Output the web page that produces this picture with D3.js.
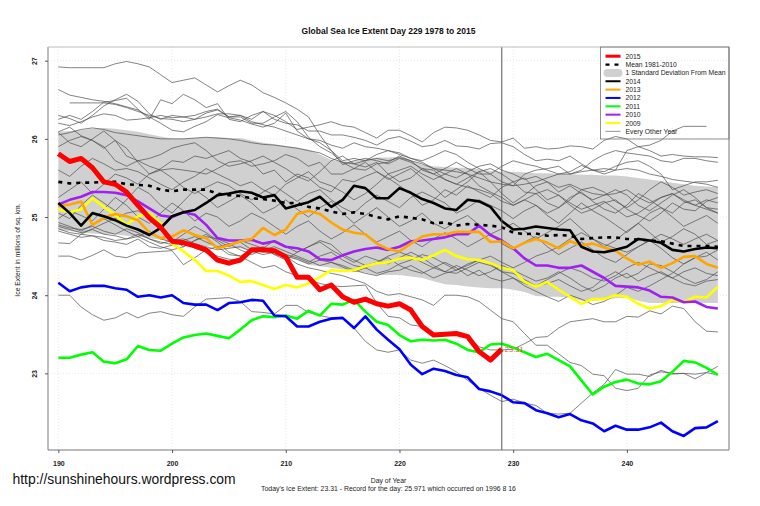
<!DOCTYPE html>
<html>
<head>
<meta charset="utf-8">
<script src="https://cdn.jsdelivr.net/npm/d3@7"></script>
<style>
  html, body { margin: 0; padding: 0; background: #fff; }
  svg { display: block; }
  text { font-family: "Liberation Sans", Arial, sans-serif; }
</style>
</head>
<body>
<svg width="760" height="506"></svg>
<script>
// first value of every series is day 190
const firstDay = 190;
const xTicks = [190, 200, 210, 220, 230, 240];
const yTicks = [23, 24, 25, 26, 27];

const y2015 = [25.81,25.71,25.75,25.63,25.45,25.42,25.32,25.15,24.99,24.87,
  24.69,24.67,24.63,24.58,24.45,24.41,24.45,24.58,24.58,24.57,
  24.49,24.23,24.23,24.07,24.13,23.98,23.91,23.95,23.89,23.86,
  23.89,23.81,23.60,23.49,23.50,23.51,23.47,23.28,23.17,23.31];
const y2014 = [25.18,25.05,24.89,25.05,25.01,24.96,24.89,24.84,24.77,24.86,
  25.01,25.06,25.09,25.18,25.28,25.30,25.33,25.31,25.25,25.28,
  25.11,25.15,25.19,25.26,25.13,25.22,25.40,25.37,25.24,25.24,
  25.37,25.31,25.23,25.18,25.11,25.09,25.22,25.20,25.13,24.95,
  24.84,24.85,24.88,24.86,24.84,24.83,24.62,24.56,24.55,24.58,
  24.62,24.72,24.70,24.67,24.58,24.56,24.59,24.61,24.60];
const y2013 = [25.14,25.16,25.20,24.90,24.99,25.04,25.01,24.96,24.80,24.73,
  24.75,24.83,24.77,24.73,24.60,24.64,24.69,24.72,24.86,24.77,
  24.84,25.04,25.08,25.04,24.93,24.84,24.80,24.78,24.66,24.59,
  24.56,24.66,24.75,24.78,24.78,24.81,24.81,24.81,24.68,24.69,
  24.60,24.67,24.72,24.67,24.60,24.69,24.64,24.66,24.61,24.57,
  24.47,24.39,24.43,24.35,24.41,24.49,24.50,24.40,24.35];
const y2012 = [24.16,24.05,24.10,24.12,24.12,24.09,24.07,23.98,24.00,23.97,
  24.00,23.90,23.88,23.88,23.81,23.90,23.91,23.94,23.93,23.74,
  23.73,23.60,23.60,23.66,23.70,23.71,23.58,23.73,23.56,23.43,
  23.31,23.11,22.99,23.06,23.03,22.98,22.95,22.80,22.77,22.72,
  22.63,22.62,22.53,22.49,22.44,22.48,22.40,22.36,22.26,22.33,
  22.28,22.28,22.31,22.37,22.26,22.20,22.30,22.31,22.39];
const y2011 = [23.20,23.20,23.24,23.27,23.15,23.13,23.18,23.35,23.30,23.29,
  23.38,23.46,23.49,23.51,23.48,23.45,23.56,23.68,23.73,23.72,
  23.74,23.70,23.80,23.74,23.89,23.88,23.94,23.79,23.66,23.62,
  23.49,23.41,23.43,23.42,23.43,23.38,23.30,23.27,23.37,23.38,
  23.33,23.27,23.21,23.25,23.17,23.09,22.91,22.73,22.83,22.89,
  22.92,22.87,22.86,22.90,23.02,23.16,23.14,23.07,22.98];
const y2010 = [25.16,25.22,25.26,25.32,25.32,25.31,25.28,25.20,25.11,25.02,
  25.00,25.06,25.03,24.90,24.73,24.70,24.70,24.71,24.66,24.69,
  24.62,24.60,24.56,24.46,24.45,24.51,24.56,24.59,24.61,24.58,
  24.62,24.69,24.70,24.72,24.74,24.78,24.78,24.89,24.77,24.70,
  24.60,24.47,24.38,24.38,24.35,24.35,24.38,24.30,24.22,24.12,
  24.11,24.10,24.06,23.98,23.97,23.91,23.92,23.85,23.83];
const y2009 = [25.10,25.06,25.10,25.24,25.13,25.03,24.90,25.01,25.05,24.92,
  24.66,24.56,24.45,24.31,24.31,24.25,24.17,24.18,24.13,24.08,
  24.13,24.10,24.15,24.23,24.32,24.31,24.32,24.37,24.41,24.42,
  24.47,24.48,24.45,24.51,24.58,24.50,24.46,24.45,24.41,24.35,
  24.32,24.17,24.11,24.17,24.07,23.98,23.89,23.95,23.95,24.00,
  23.98,23.89,23.83,23.86,23.94,23.91,23.98,23.97,24.11];
const meanLine = [25.45,25.43,25.44,25.44,25.45,25.45,25.42,25.41,25.40,25.35,
  25.33,25.35,25.35,25.35,25.30,25.28,25.27,25.24,25.23,25.21,
  25.18,25.18,25.13,25.11,25.07,25.04,25.06,25.04,25.00,24.97,
  25.01,24.99,24.97,24.92,24.93,24.89,24.91,24.90,24.89,24.87,
  24.80,24.78,24.79,24.76,24.77,24.76,24.72,24.73,24.74,24.74,
  24.72,24.71,24.70,24.69,24.66,24.63,24.63,24.63,24.62];
const sdUpper = [26.09,26.10,26.11,26.13,26.14,26.13,26.11,26.09,26.06,26.03,
  26.00,26.00,26.01,26.02,26.02,26.01,26.01,25.98,25.95,25.93,
  25.91,25.89,25.86,25.80,25.73,25.71,25.71,25.74,25.76,25.76,
  25.77,25.72,25.67,25.65,25.64,25.63,25.63,25.61,25.59,25.58,
  25.58,25.57,25.56,25.56,25.55,25.55,25.54,25.54,25.53,25.53,
  25.52,25.50,25.48,25.46,25.44,25.42,25.40,25.39,25.38];
const sdLower = [24.83,24.82,24.80,24.79,24.78,24.78,24.76,24.75,24.73,24.71,
  24.69,24.67,24.65,24.63,24.62,24.61,24.60,24.56,24.55,24.53,
  24.49,24.45,24.39,24.37,24.35,24.33,24.31,24.29,24.26,24.26,
  24.26,24.24,24.22,24.18,24.14,24.13,24.11,24.10,24.09,24.09,
  24.07,24.04,23.99,23.98,23.98,23.97,23.93,23.93,23.94,23.96,
  23.97,23.93,23.90,23.90,23.90,23.90,23.90,23.90,23.90];

// the thin lines, estimated by eye
const otherYears = [
  [26.92,26.91,26.91,26.91,26.91,26.96,26.99,26.96,26.92,26.82,26.72,26.75,26.78,26.69,26.60,26.68,26.75,26.69,26.59,26.53,26.46,26.38,26.28,26.05,25.85,25.67,25.72,25.75,25.72,25.68,25.75,25.70,25.62,25.60,25.48,25.42,25.38,25.35,25.30,25.20,25.15,25.22,25.30,25.35,25.28,25.18,25.10,25.15,25.20,25.10,25.00,25.05,25.15,25.25,25.30,25.22,25.15,25.10,25.05],
  [26.63,26.56,26.53,26.50,26.48,26.45,26.41,26.37,26.28,26.20,26.11,26.09,26.16,26.22,26.31,26.27,26.24,26.19,26.15,26.20,26.33,26.10,26.00,25.95,25.85,25.72,25.75,25.72,25.80,25.85,25.82,25.75,25.70,25.62,25.55,25.50,25.58,25.65,25.68,25.60,25.55,25.48,25.52,25.45,25.38,25.42,25.35,25.30,25.28,25.30,25.35,25.25,25.18,25.25,25.30,25.20,25.15,25.22,25.18],
  [null,26.46,26.46,26.46,26.46,26.44,26.40,26.35,26.30,26.26,26.25,26.22,26.25,26.33,26.37,26.28,26.30,26.25,26.35,26.30,26.22,26.12,26.15,26.18,26.22,26.17,26.15,26.08,26.01,26.11,26.11,26.04,25.96,26.08,26.15,26.14,26.11,26.05,25.98,25.96,26.01,25.88,25.90,25.87,25.88,25.91,25.90,25.87,25.98,26.03,26.00,25.90,25.85,25.78,25.80,25.78,25.77,25.77,25.76],
  [26.30,26.26,26.20,26.30,26.42,26.50,26.57,26.48,26.32,26.25,26.30,26.28,26.30,26.35,26.38,26.28,26.28,26.20,26.20,26.28,26.35,26.22,26.02,25.90,25.82,25.70,25.62,25.60,25.68,25.70,25.78,25.72,25.60,25.55,25.62,25.70,25.62,25.55,25.55,25.45,25.40,25.55,25.60,25.62,25.65,25.55,25.60,25.72,25.80,25.85,25.82,25.80,25.78,25.72,25.70,25.75,25.75,25.72,25.70],
  [26.25,26.30,26.25,26.35,26.47,26.49,26.52,26.38,26.25,26.50,26.45,26.57,26.50,26.40,26.45,26.25,26.22,26.30,26.35,26.25,26.20,26.18,26.10,26.10,26.05,26.05,26.02,25.98,25.92,26.00,26.03,25.97,25.90,25.92,25.98,25.91,25.90,25.87,25.94,25.95,25.90,25.80,25.72,25.74,25.72,25.78,25.68,25.60,25.58,25.65,25.70,25.72,25.65,25.55,25.35,25.40,25.45,25.45,25.47],
  [26.20,26.17,26.22,26.28,26.32,26.30,26.24,26.25,26.27,26.30,26.27,26.28,26.25,26.28,26.32,26.32,26.30,26.22,26.18,26.15,26.10,26.05,26.00,25.98,25.92,25.88,25.95,25.90,25.88,25.85,25.80,25.75,25.72,25.78,25.85,25.80,25.70,25.62,25.55,25.65,25.72,25.68,25.65,25.60,25.55,25.58,25.66,25.60,25.55,25.60,25.85,25.90,25.92,25.98,26.10,26.16,26.16,26.16,null],
  [26.09,26.15,26.04,25.98,25.88,25.98,25.78,25.72,25.75,25.80,25.88,25.92,25.95,25.85,25.72,25.65,25.68,25.72,25.78,25.70,25.62,25.52,25.46,25.58,25.72,25.78,25.68,25.64,25.70,25.55,25.45,25.50,25.62,25.55,25.48,25.42,25.50,25.58,25.45,25.30,25.18,25.28,25.40,25.45,25.32,25.40,25.30,25.22,25.28,25.35,25.28,25.15,25.08,25.18,25.28,25.35,25.25,25.12,25.10],
  [26.08,25.95,25.90,26.00,26.10,25.98,25.88,25.70,25.55,25.62,25.72,25.70,25.78,25.75,25.80,25.85,25.75,25.70,25.55,25.60,25.45,25.55,25.50,25.38,25.32,25.48,25.45,25.52,25.58,25.50,25.40,25.30,25.15,25.22,25.35,25.28,25.40,25.32,25.25,25.38,25.45,25.50,25.35,25.22,25.28,25.15,25.05,25.10,25.18,25.22,25.10,25.02,24.95,25.05,25.18,25.10,25.08,25.20,25.25],
  [25.90,25.98,26.03,25.98,25.90,25.72,25.65,25.72,25.65,25.60,25.62,25.60,25.58,25.55,25.62,25.70,25.72,25.65,25.68,25.72,25.80,25.75,25.65,25.70,25.55,25.55,25.62,25.70,25.58,25.48,25.55,25.62,25.50,25.38,25.25,25.35,25.45,25.58,25.62,25.55,25.45,25.32,25.30,25.18,25.12,25.22,25.35,25.38,25.32,25.20,25.12,25.22,25.35,25.45,25.38,25.28,25.32,25.35,25.30],
  [25.60,25.52,25.65,25.75,25.68,25.60,25.62,25.58,25.50,25.42,25.35,25.45,25.52,25.62,25.55,25.48,25.40,25.45,25.35,25.28,25.42,25.50,25.58,25.45,25.40,25.32,25.22,25.30,25.42,25.55,25.60,25.65,25.55,25.48,25.55,25.62,25.55,25.40,25.32,25.25,25.15,25.22,25.15,25.05,25.12,25.25,25.32,25.20,25.10,25.05,25.15,25.30,25.22,25.12,25.05,25.18,25.22,25.12,25.05],
  [25.25,25.35,25.45,25.30,25.42,25.55,25.50,25.42,25.55,25.60,25.50,25.38,25.30,25.38,25.45,25.40,25.30,25.22,25.32,25.40,25.30,25.20,25.30,25.35,25.22,25.12,25.05,25.18,25.28,25.20,25.12,25.25,25.32,25.25,25.18,25.05,25.12,25.22,25.15,25.08,24.98,25.08,25.15,25.02,24.92,25.05,25.18,25.08,25.00,24.90,24.80,24.92,25.05,25.12,25.00,24.88,24.95,25.02,24.92],
  [25.05,24.98,25.15,25.28,25.18,25.08,25.22,25.38,25.30,25.15,25.05,25.20,25.35,25.25,25.12,25.20,25.28,25.18,25.05,25.12,25.22,25.10,25.00,25.12,25.20,25.05,24.92,25.02,25.12,25.00,24.88,24.95,25.05,24.92,24.85,24.95,25.02,24.90,24.78,24.85,24.92,24.82,24.72,24.80,24.88,24.98,24.85,24.72,24.62,24.70,24.82,24.92,24.80,24.68,24.75,24.85,24.78,24.65,24.70],
  [24.98,25.08,25.02,24.95,25.10,25.25,25.15,25.00,24.92,25.05,25.18,25.08,24.95,25.05,25.00,24.88,24.95,25.05,24.98,24.88,24.78,24.88,24.95,24.82,24.72,24.80,24.90,24.78,24.68,24.75,24.82,24.70,24.62,24.72,24.80,24.72,24.62,24.70,24.78,24.66,24.58,24.68,24.75,24.62,24.52,24.60,24.68,24.58,24.48,24.42,24.52,24.62,24.70,24.60,24.48,24.40,24.48,24.55,24.45],
  [24.93,24.88,24.82,24.90,24.98,24.90,24.82,24.75,24.82,24.72,24.68,24.78,24.88,24.80,24.70,24.62,24.70,24.65,24.60,24.70,24.62,24.55,24.62,24.68,24.58,24.50,24.42,24.50,24.45,24.40,24.48,24.55,24.48,24.38,24.30,24.38,24.32,24.25,24.30,24.38,24.32,24.25,24.18,24.22,24.30,24.22,24.12,24.05,24.12,24.22,24.28,24.18,24.25,24.30,24.22,24.15,24.12,24.18,24.20],
  [24.90,24.86,24.84,24.88,24.82,24.78,24.85,24.80,24.72,24.68,24.65,24.70,24.75,24.68,24.62,24.65,24.68,24.58,24.55,24.58,24.52,24.48,24.42,24.50,24.55,24.45,24.38,24.35,24.42,24.48,24.38,24.32,24.28,24.35,24.42,24.35,24.25,24.32,24.22,24.18,24.22,24.15,24.12,24.20,24.28,24.35,24.30,24.22,24.18,24.25,24.35,24.42,24.35,24.28,24.22,24.30,24.35,24.28,24.25],
  [24.88,24.84,24.80,24.84,24.78,24.76,24.72,24.78,24.72,24.66,24.70,24.72,24.66,24.62,24.58,24.60,24.62,24.56,24.52,24.55,24.50,24.46,24.40,24.45,24.42,24.38,24.32,24.28,24.25,24.30,24.32,24.38,24.30,24.22,24.28,24.32,24.40,24.45,24.50,24.42,24.35,24.42,24.50,24.55,24.62,24.72,24.80,24.72,24.65,24.60,24.55,24.62,24.70,24.78,24.72,24.65,24.72,24.78,24.70],
  [24.85,24.80,24.78,24.76,24.74,24.70,24.72,24.75,24.68,24.62,24.58,24.62,24.70,24.75,24.72,24.66,24.58,24.52,24.58,24.62,24.56,24.50,24.44,24.38,24.42,24.36,24.30,24.35,24.28,24.32,24.40,24.45,24.52,24.48,24.40,24.32,24.38,24.45,24.40,24.30,24.28,24.20,24.12,24.15,24.20,24.12,24.05,24.10,24.22,24.30,24.22,24.28,24.40,24.38,24.30,24.22,24.15,24.20,24.30],
  [24.67,24.66,24.78,24.85,24.92,24.98,25.05,25.08,25.00,24.85,24.72,24.62,24.70,24.78,24.68,24.55,24.50,24.58,24.62,24.52,24.45,24.55,24.62,24.70,24.65,24.52,24.45,24.38,24.42,24.50,24.55,24.50,24.42,24.35,24.30,24.28,24.35,24.42,24.38,24.30,24.22,24.12,24.05,23.98,23.92,24.00,23.95,23.88,23.92,24.00,24.10,24.05,24.12,24.20,24.28,24.40,24.48,24.50,24.58],
  [24.50,24.50,24.45,24.51,24.58,24.50,24.48,24.54,24.55,24.56,24.57,24.39,24.48,24.58,24.62,24.52,24.50,24.42,24.35,24.38,24.30,24.25,24.20,24.15,24.12,24.11,24.12,24.13,23.90,23.73,23.71,23.62,23.60,23.49,23.50,23.52,23.48,23.34,23.30,23.30,23.31,23.38,23.46,23.47,23.58,23.66,23.68,23.70,23.66,23.66,23.73,23.72,23.80,23.76,23.86,23.83,23.66,23.54,23.53],
  [24.82,24.78,24.74,24.76,24.70,24.68,24.65,24.72,24.62,24.60,24.64,24.68,24.60,24.55,24.50,24.46,24.45,24.55,24.60,24.52,24.50,24.40,24.35,24.32,24.28,24.25,24.20,24.15,24.05,24.00,24.02,23.98,23.94,23.87,24.00,24.00,23.98,23.92,23.81,23.70,23.66,23.51,23.36,23.36,23.25,23.14,23.10,22.99,22.97,22.81,22.78,22.81,22.98,23.02,23.00,23.00,22.99,23.01,22.98],
  [24.00,24.00,23.85,23.75,23.68,23.71,23.78,23.71,23.77,23.79,23.75,23.73,23.85,23.95,23.96,23.97,23.92,23.79,23.78,23.76,23.87,23.87,23.78,23.74,23.71,23.70,23.58,23.41,23.30,23.27,23.30,23.17,23.13,23.17,23.10,23.02,22.91,22.81,22.72,22.64,22.67,22.62,22.59,22.49,22.48,22.49,22.62,22.75,22.86,23.05,22.99,22.99,22.96,23.04,22.99,23.00,22.93,23.01,23.09],
  [26.05,26.08,26.12,26.14,26.12,26.08,26.06,26.04,26.02,26.00,26.00,26.00,26.01,26.02,26.01,26.00,25.98,25.95,25.93,25.92,25.90,25.88,25.85,25.82,25.75,25.70,25.68,25.72,25.75,25.72,25.76,25.72,25.68,25.62,25.60,25.58,25.55,25.50,25.45,25.42,25.40,25.42,25.45,25.50,25.55,25.55,25.58,25.60,25.62,25.60,25.62,25.60,25.55,25.52,25.48,25.46,25.44,25.42,25.38]
];

const legendLabels = ["2015", "Mean 1981-2010", "1 Standard Deviation From Mean", "2014", "2013", "2012", "2011", "2010", "2009", "Every Other Year"];
const legendColors = ["#ff0000", "#000000", "#d0d0d0", "#000000", "#ffa500", "#0000ff", "#00ff00", "#a020f0", "#ffff00", "#777777"];

const svg = d3.select("svg");
const margin = { top: 47, right: 31, bottom: 56, left: 48 };
const width = 760 - margin.left - margin.right;
const height = 506 - margin.top - margin.bottom;
const g = svg.append("g").attr("transform", "translate(" + margin.left + "," + margin.top + ")");

const x = d3.scaleLinear().domain([189.09, 248.98]).range([0, width]);
const y = d3.scaleLinear().domain([22.02, 27.175]).range([height, 0]);

const line = d3.line()
  .defined(d => d != null)
  .x((d, i) => x(firstDay + i))
  .y(d => y(d));

// dotted grid
g.append("g").selectAll("line").data(xTicks).join("line")
  .attr("x1", d => x(d)).attr("x2", d => x(d)).attr("y1", 0).attr("y2", height)
  .attr("stroke", "#dddddd").attr("stroke-width", 0.7).attr("stroke-dasharray", "1 2");
g.append("g").selectAll("line").data(yTicks).join("line")
  .attr("x1", 0).attr("x2", width).attr("y1", d => y(d)).attr("y2", d => y(d))
  .attr("stroke", "#dddddd").attr("stroke-width", 0.7).attr("stroke-dasharray", "1 2");

// 1 sd band
const band = d3.area()
  .x((d, i) => x(firstDay + i))
  .y0((d, i) => y(sdLower[i]))
  .y1(d => y(d));
g.append("path").datum(sdUpper).attr("d", band).attr("fill", "#d0d0d0");

g.append("g").selectAll("path").data(otherYears).join("path")
  .attr("d", line).attr("fill", "none").attr("stroke", "#4d4d4d").attr("stroke-width", 0.7);

function drawYear(values, color, w) {
  return g.append("path").datum(values).attr("d", line)
    .attr("fill", "none").attr("stroke", color).attr("stroke-width", w)
    .attr("stroke-linejoin", "round");
}
drawYear(y2009, "#ffff00", 2.6);
drawYear(y2010, "#a020f0", 2.6);
drawYear(y2011, "#00ff00", 2.6);
drawYear(y2012, "#0000ff", 2.6);
drawYear(y2013, "#ffa500", 2.6);
drawYear(y2014, "#000000", 2.6);
drawYear(meanLine, "#000000", 2.6).attr("stroke-dasharray", "4 5");
drawYear(y2015, "#ff0000", 5);

// today marker
g.append("line").attr("x1", x(229)).attr("x2", x(229)).attr("y1", 0).attr("y2", height)
  .attr("stroke", "#555555").attr("stroke-width", 1);
g.append("text").attr("x", x(229) + 3).attr("y", y(23.31) + 3)
  .attr("font-size", 7.5).attr("fill", "#ee5555").text("23.31");

// frame, left and top are lighter in the original
g.append("line").attr("x1", 0).attr("x2", 0).attr("y1", 0).attr("y2", height).attr("stroke", "#bdbdbd").attr("stroke-width", 2);
g.append("line").attr("x1", 0).attr("x2", width).attr("y1", 0).attr("y2", 0).attr("stroke", "#bdbdbd").attr("stroke-width", 1.2);
g.append("line").attr("x1", 0).attr("x2", width).attr("y1", height).attr("y2", height).attr("stroke", "#777777");
g.append("line").attr("x1", width).attr("x2", width).attr("y1", 0).attr("y2", height).attr("stroke", "#777777");

// axes
const xAxis = g.append("g").attr("transform", "translate(0," + height + ")")
  .call(d3.axisBottom(x).tickValues(xTicks).tickSize(3).tickPadding(8));
xAxis.select(".domain").remove();
const yAxis = g.append("g").call(d3.axisLeft(y).tickValues(yTicks).tickSize(3).tickFormat(d3.format("d")));
yAxis.select(".domain").remove();
g.selectAll(".tick line").attr("stroke", "#555555");
xAxis.selectAll("text").attr("font-size", 7).attr("font-weight", "bold").attr("fill", "#222");
yAxis.selectAll("text").attr("font-size", 7).attr("font-weight", "bold").attr("fill", "#222")
  .attr("transform", "translate(-13,0) rotate(-90)")
  .attr("x", 0).attr("y", 0).attr("dy", "0.32em").attr("text-anchor", "middle");

// legend
const legendX = 600.5 - margin.left;
const legendY = 0;
const legend = g.append("g");
legend.append("rect").attr("x", legendX).attr("y", legendY).attr("width", width - legendX).attr("height", 92)
  .attr("fill", "none").attr("stroke", "#777777").attr("stroke-width", 0.8);
legendLabels.forEach((label, i) => {
  const rowY = 9.2 + i * 8.35;
  const key = legend.append("line")
    .attr("x1", legendX + 5).attr("x2", legendX + 20).attr("y1", rowY).attr("y2", rowY)
    .attr("stroke", legendColors[i]).attr("stroke-width", i === 0 ? 3 : 2);
  if (i === 1) key.attr("stroke-dasharray", "4 5").attr("stroke-width", 2.2);
  if (i === 2) key.attr("x1", legendX + 7).attr("x2", legendX + 18).attr("stroke-width", 8).attr("stroke-linecap", "round");
  if (i === 9) key.attr("stroke-width", 0.8);
  legend.append("text").attr("x", legendX + 25).attr("y", rowY + 2.5)
    .attr("font-size", 6.8).attr("fill", "#222").text(label);
});

// titles
svg.append("text").attr("x", 388.5).attr("y", 33.5).attr("text-anchor", "middle")
  .attr("font-size", 8.5).attr("font-weight", "bold").attr("fill", "#111")
  .text("Global Sea Ice Extent Day 229 1978 to 2015");
svg.append("text").attr("x", 388.5).attr("y", 483).attr("text-anchor", "middle")
  .attr("font-size", 6.9).attr("fill", "#222").text("Day of Year");
svg.append("text").attr("x", 388.5).attr("y", 491).attr("text-anchor", "middle")
  .attr("font-size", 6.9).attr("fill", "#222")
  .text("Today's Ice Extent: 23.31  - Record for the day: 25.971 which occurred on 1996 8 16");
svg.append("text").attr("transform", "translate(20,250) rotate(-90)").attr("text-anchor", "middle")
  .attr("font-size", 6.8).attr("fill", "#222").text("Ice Extent in millions of sq. km.");
svg.append("text").attr("x", 12.5).attr("y", 484).attr("font-size", 13.9).attr("fill", "#111")
  .text("http://sunshinehours.wordpress.com");
</script>
</body>
</html>
